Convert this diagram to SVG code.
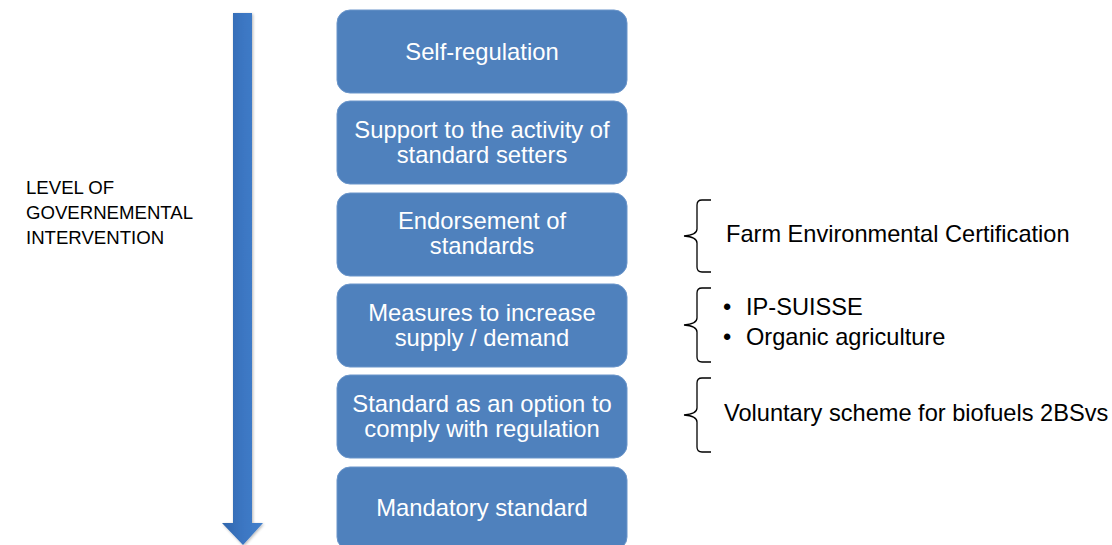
<svg xmlns="http://www.w3.org/2000/svg" width="1112" height="545" viewBox="0 0 1112 545">
<style>
.box{fill:#4F81BD;stroke:#6A95CA;stroke-width:1}
.bt{font-family:"Liberation Sans",Arial,sans-serif;font-size:23.8px;fill:#FFFFFF;text-anchor:middle}
.rt{font-family:"Liberation Sans",Arial,sans-serif;font-size:23.6px;fill:#000000}
.lt{font-family:"Liberation Sans",Arial,sans-serif;font-size:18.6px;fill:#000000}
.brace{fill:none;stroke:#000000;stroke-width:1.3}
</style>
<defs>
<linearGradient id="ag" x1="0" y1="0" x2="1" y2="0">
<stop offset="0" stop-color="#2F65AC"/>
<stop offset="0.5" stop-color="#3B76C2"/>
<stop offset="1" stop-color="#4380CC"/>
</linearGradient>
<filter id="sh" x="-50%" y="-5%" width="200%" height="110%">
<feGaussianBlur in="SourceAlpha" stdDeviation="1.5"/>
<feOffset dx="1" dy="1" result="b"/>
<feComponentTransfer><feFuncA type="linear" slope="0.3"/></feComponentTransfer>
<feMerge><feMergeNode/><feMergeNode in="SourceGraphic"/></feMerge>
</filter>
</defs>
<rect width="1112" height="545" fill="#FFFFFF"/>
<g id="arrow">
<path d="M233,13 H252 V523 H263 L243,545 L222,523 H233 Z" fill="url(#ag)" filter="url(#sh)"/>
</g>
<g id="axis-label">
<text class="lt" x="26" y="194">LEVEL OF</text>
<text class="lt" x="26" y="219">GOVERNEMENTAL</text>
<text class="lt" x="26" y="244">INTERVENTION</text>
</g>
<g id="n1"><rect class="box" x="337" y="10" width="290" height="83" rx="13"/><text class="bt" x="482" y="60">Self-regulation</text></g>
<g id="n2"><rect class="box" x="337" y="101" width="290" height="83" rx="13"/><text class="bt" x="482" y="137.5">Support to the activity of</text><text class="bt" x="482" y="162.5">standard setters</text></g>
<g id="n3"><rect class="box" x="337" y="193" width="290" height="83" rx="13"/><text class="bt" x="482" y="228.5">Endorsement of</text><text class="bt" x="482" y="253.5">standards</text></g>
<g id="n4"><rect class="box" x="337" y="284" width="290" height="83" rx="13"/><text class="bt" x="482" y="320.5">Measures to increase</text><text class="bt" x="482" y="345.5">supply / demand</text></g>
<g id="n5"><rect class="box" x="337" y="375" width="290" height="83" rx="13"/><text class="bt" x="482" y="411.5">Standard as an option to</text><text class="bt" x="482" y="436.5">comply with regulation</text></g>
<g id="n6"><rect class="box" x="337" y="467" width="290" height="83" rx="13"/><text class="bt" x="482" y="516">Mandatory standard</text></g>
<g id="connectors">
<path class="brace" d="M711,200 H702 Q697,200 697,205 V229 Q697,235 684,236 Q697,237 697,243 V267 Q697,272 702,272 H711"/>
<path class="brace" d="M711,288 H702 Q697,288 697,293 V318 Q697,324 684,325 Q697,326 697,332 V357 Q697,362 702,362 H711"/>
<path class="brace" d="M711,378 H702 Q697,378 697,383 V408 Q697,414 684,415 Q697,416 697,422 V447 Q697,452 702,452 H711"/>
</g>
<g id="a1"><text class="rt" x="726" y="242">Farm Environmental Certification</text></g>
<g id="a2"><text class="rt" x="723" y="315">•</text><text class="rt" x="746" y="315">IP-SUISSE</text><text class="rt" x="723" y="345">•</text><text class="rt" x="746" y="345">Organic agriculture</text></g>
<g id="a3"><text class="rt" x="724" y="421">Voluntary scheme for biofuels 2BSvs</text></g>
</svg>
